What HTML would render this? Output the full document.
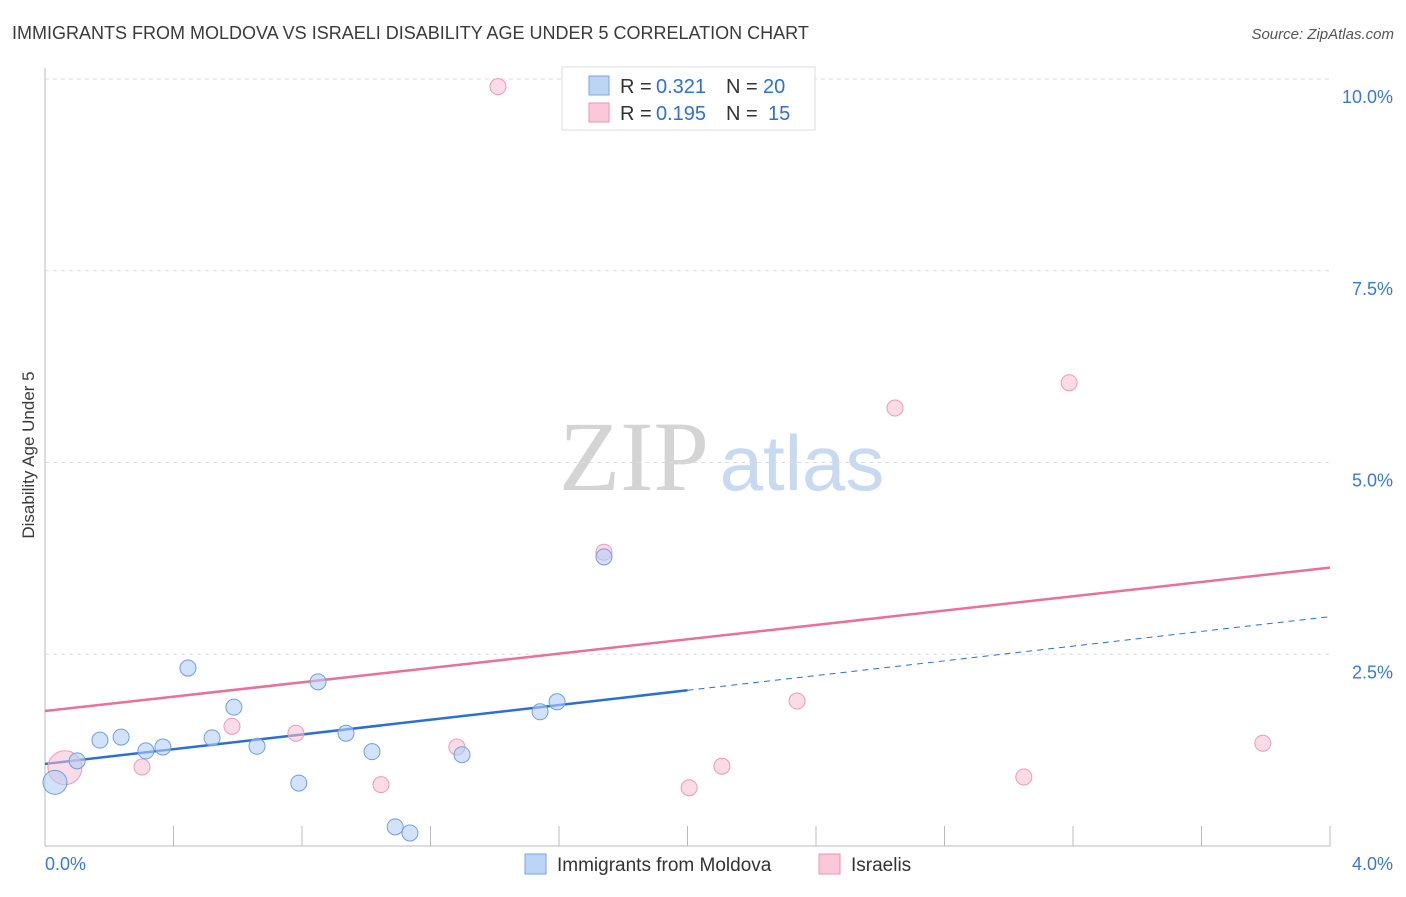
<!DOCTYPE html>
<html><head><meta charset="utf-8"><style>
body{margin:0;background:#fff;font-family:"Liberation Sans",sans-serif}
</style></head><body>
<svg id="chart" width="1406" height="892" xmlns="http://www.w3.org/2000/svg" font-family="Liberation Sans, sans-serif">
<text x="12" y="39" font-size="18" fill="#3a3a3a">IMMIGRANTS FROM MOLDOVA VS ISRAELI DISABILITY AGE UNDER 5 CORRELATION CHART</text>
<text x="1394" y="39" font-size="15" fill="#555" text-anchor="end" font-style="italic">Source: ZipAtlas.com</text>
<text transform="translate(34,455) rotate(-90)" font-size="17" fill="#3a3a3a" text-anchor="middle">Disability Age Under 5</text>
<g>
<text x="634" y="490" font-size="100" fill="#d4d4d4" text-anchor="middle" font-family="Liberation Serif, serif">ZIP</text>
<text x="802" y="490" font-size="78" fill="#c8daf2" text-anchor="middle">atlas</text>
</g>
<g id="grid"></g><g id="axes"></g><g id="lines"></g><g id="points"></g>
<g>
<rect x="562" y="67" width="253" height="63" fill="#fff" stroke="#ddd"/>
<rect x="589" y="76" width="20" height="19" fill="#bcd4f6" stroke="#7aa6e6"/>
<rect x="589" y="103" width="20" height="19" fill="#fac8d8" stroke="#ee92b0"/>
<text x="620" y="93" font-size="20" fill="#333">R =</text>
<text x="656" y="93" font-size="20" fill="#2f6fd6">0.321</text>
<text x="726" y="93" font-size="20" fill="#333">N =</text>
<text x="763" y="93" font-size="20" fill="#2f6fd6">20</text>
<text x="620" y="120" font-size="20" fill="#333">R =</text>
<text x="656" y="120" font-size="20" fill="#2f6fd6">0.195</text>
<text x="726" y="120" font-size="20" fill="#333">N =</text>
<text x="768" y="120" font-size="20" fill="#2f6fd6">15</text>
</g>
<g>
<rect x="525" y="854" width="21" height="20" fill="#bcd4f6" stroke="#7aa6e6"/>
<text x="557" y="871" font-size="19" fill="#333">Immigrants from Moldova</text>
<rect x="819" y="854" width="21" height="20" fill="#fac8d8" stroke="#ee92b0"/>
<text x="851" y="871" font-size="19" fill="#333">Israelis</text>
</g>
</svg>
<script>
const yTicks=[2.5,5,7.5,10];
const yTickLabels=["2.5%","5.0%","7.5%","10.0%"];
const xTickLabels=["0.0%","4.0%"];
const blueX=[0.031,0.10,0.171,0.237,0.314,0.367,0.445,0.52,0.588,0.66,0.79,0.85,0.937,1.018,1.09,1.136,1.298,1.541,1.594,1.74];
const blueY=[0.83,1.11,1.38,1.42,1.24,1.29,2.32,1.41,1.81,1.30,0.82,2.14,1.47,1.23,0.25,0.17,1.19,1.75,1.88,3.77];
const pinkX=[0.062,0.302,0.582,0.781,1.046,1.282,1.41,1.74,2.005,2.107,2.341,2.646,3.047,3.188,3.791];
const pinkY=[1.02,1.03,1.56,1.47,0.80,1.29,9.90,3.83,0.76,1.04,1.89,5.71,0.90,6.04,1.34];
const blueTrend=[1.07,2.99];
const pinkTrend=[1.76,3.63];
const NS="http://www.w3.org/2000/svg";
const X=v=>45+v/4*1285, Y=v=>846-v*76.7;
function mk(p,t,a){const e=document.createElementNS(NS,t);for(const k in a)e.setAttribute(k,a[k]);document.getElementById(p).appendChild(e);return e;}
yTicks.forEach((t,i)=>{
 const g=mk('grid','line',{x1:45,x2:1330,y1:Y(t),y2:Y(t),stroke:'#ddd','stroke-dasharray':'4,4'});
 
 
 const l=mk('axes','text',{x:1393,y:Y(t)+24,'font-size':18,fill:'#3a78d8','text-anchor':'end'});
 l.textContent=yTickLabels[i];
 
 
});
const ax=mk('axes','line',{x1:45,x2:1330,y1:846,y2:846,stroke:'#bbb'});


const ay=mk('axes','line',{x1:45,x2:45,y1:68,y2:846,stroke:'#bbb'});


for(let i=0;i<=10;i++){const t=mk('axes','line',{x1:X(i*0.4),x2:X(i*0.4),y1:826,y2:846,stroke:'#bbb'});
 
 }
[[0,"start",45],[4,"end",1393]].forEach(([v,a,x],i)=>{const t=mk('axes','text',{x:x,y:870,'font-size':18,fill:'#3a78d8','text-anchor':a});t.textContent=xTickLabels[i];
 
 });
const by=x=>blueTrend[0]+(blueTrend[1]-blueTrend[0])*x/4;
let l1=mk('lines','line',{x1:X(0),y1:Y(by(0)),x2:X(2),y2:Y(by(2)),stroke:'#2a6fd4','stroke-width':2.5});


let l2=mk('lines','line',{x1:X(2),y1:Y(by(2)),x2:X(4),y2:Y(by(4)),stroke:'#2a6fd4','stroke-width':1,'stroke-dasharray':'6,5'});


let l3=mk('lines','line',{x1:X(0),y1:Y(pinkTrend[0]),x2:X(4),y2:Y(pinkTrend[1]),stroke:'#e8709a','stroke-width':2.5});


pinkX.forEach((x,i)=>{const c=mk('points','circle',{cx:X(x),cy:Y(pinkY[i]),r:i==0?17:8,fill:'rgba(248,190,210,0.55)',stroke:'#ee9ab6','stroke-width':1});
 
 });
blueX.forEach((x,i)=>{const c=mk('points','circle',{cx:X(x),cy:Y(blueY[i]),r:i==0?12:8,fill:'rgba(180,206,244,0.6)',stroke:'#6e9fe2','stroke-width':1});
 
 });
</script>
</body></html>
